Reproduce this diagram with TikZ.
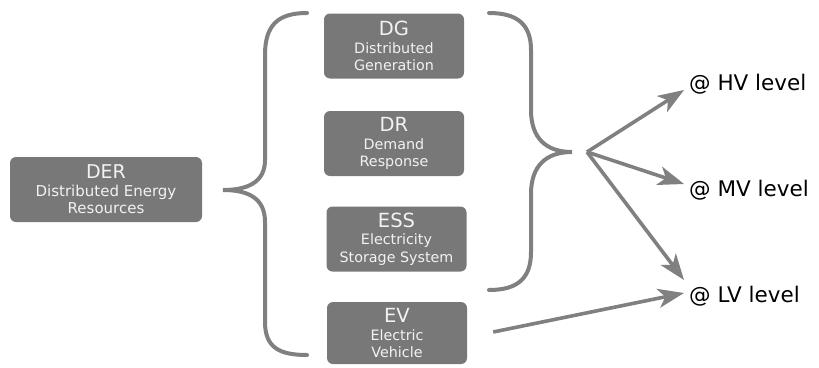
\documentclass[tikz,border=0pt]{standalone}
\usepackage{fontspec}
\setmainfont{DejaVu Sans}
\usetikzlibrary{arrows.meta,calc}

\definecolor{boxfill}{HTML}{787878}
\definecolor{boxtext}{HTML}{F2F2F2}
\definecolor{linegray}{HTML}{808080}

\tikzset{
  derbox/.style={fill=boxfill, rounded corners=6pt, draw=none, text=boxtext,
    align=center, inner sep=0pt, minimum width=#1, minimum height=65pt,
    font=\fontsize{14.3}{17.3}\selectfont},
  derbox/.default=140pt,
  brace/.style={draw=linegray, line width=4pt, line cap=round},
  arr/.style={draw=linegray, line width=3.6pt,
    -{Stealth[length=26pt,width=19pt,inset=7pt]}},
  lvl/.style={anchor=base west, inner sep=0pt, text=black,
    font=\fontsize{21.5}{24}\selectfont}
}

\begin{document}
\begin{tikzpicture}[x=1pt,y=-1pt]
\useasboundingbox (0,0) rectangle (819,367);

% main box
\node[derbox=192pt, font=\fontsize{15}{17.4}\selectfont] (der) at (106,189.5)
  {{\fontsize{19}{20}\selectfont DER}\\Distributed Energy\\Resources};

% resource boxes
\node[derbox] (dg) at (394,46)
  {{\fontsize{19.5}{20}\selectfont DG}\\Distributed\\Generation};
\node[derbox] (dr) at (394,143.5)
  {{\fontsize{19.5}{20}\selectfont DR}\\Demand\\Response};
\node[derbox] (ess) at (396.5,239)
  {{\fontsize{19.5}{20}\selectfont ESS}\\Electricity\\Storage System};
\node[derbox, minimum height=62pt] (ev) at (397,333)
  {{\fontsize{19.5}{20}\selectfont EV}\\Electric\\Vehicle};

% left brace
\draw[brace] (307,13) .. controls (278,13) and (265,25) .. (265,55)
  -- (265,160) .. controls (265,182) and (248,190) .. (223,190)
  .. controls (248,190) and (265,198) .. (265,222)
  -- (265,322) .. controls (265,348) and (280,355) .. (307,355);

% right brace
\draw[brace] (489,13) .. controls (518,13) and (531,25) .. (531,50)
  -- (531,110) .. controls (531,138) and (546,152) .. (572,152)
  .. controls (546,152) and (531,166) .. (531,194)
  -- (531,252) .. controls (531,278) and (518,290) .. (489,290);

% voltage level labels
\node[lvl] (hv) at (689,90) {@ HV level};
\node[lvl] (mv) at (689,196) {@ MV level};
\node[lvl] (lv) at (689,302) {@ LV level};

% arrow start and end points
\coordinate (hub) at (587,152);
\coordinate (evout) at ($(ev.east)+(26,-1)$);
\coordinate (hvtip) at ($(hv.base west)+(-5,0)$);
\coordinate (mvtip) at ($(mv.base west)+(-5,-12)$);
\coordinate (lvtip) at ($(lv.base west)+(-5,-22)$);
\coordinate (evtip) at ($(lv.base west)+(-5,-9)$);

\draw[arr] (hub) -- (hvtip);
\draw[arr] (hub) -- (mvtip);
\draw[arr] (hub) -- (lvtip);
\draw[arr] (evout) -- (evtip);
\end{tikzpicture}
\end{document}
